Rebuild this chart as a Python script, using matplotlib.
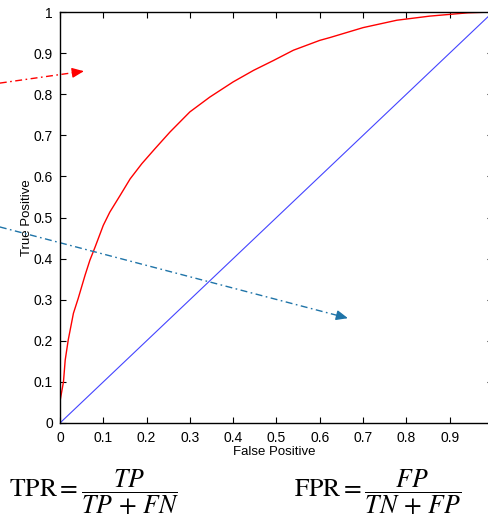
import matplotlib
matplotlib.use("Agg")
import matplotlib.pyplot as plt

# ROC curve of the classifier and the chance diagonal
fpr = [0, 0, 0.008, 0.012, 0.019, 0.031, 0.042, 0.058, 0.069, 0.081, 0.100,
       0.115, 0.139, 0.162, 0.189, 0.219, 0.254, 0.300, 0.346, 0.400, 0.447,
       0.493, 0.539, 0.600, 0.624, 0.700, 0.778, 0.854, 0.942, 1.0]
tpr = [0, 0.053, 0.100, 0.153, 0.202, 0.267, 0.303, 0.360, 0.396, 0.428, 0.481,
       0.513, 0.554, 0.594, 0.631, 0.667, 0.708, 0.757, 0.793, 0.830, 0.858,
       0.882, 0.907, 0.931, 0.938, 0.962, 0.980, 0.990, 0.998, 1.0]
chance_fpr = [0, 1]
chance_tpr = [0, 1]

xticks = [0, 0.1, 0.2, 0.3, 0.4, 0.5, 0.6, 0.7, 0.8, 0.9]
xtick_labels = ['0', '0.1', '0.2', '0.3', '0.4', '0.5', '0.6', '0.7', '0.8', '0.9']
yticks = [0, 0.1, 0.2, 0.3, 0.4, 0.5, 0.6, 0.7, 0.8, 0.9, 1]
ytick_labels = ['0', '0.1', '0.2', '0.3', '0.4', '0.5', '0.6', '0.7', '0.8', '0.9', '1']

# pointer arrows (start, tip) in data coordinates
red_arrow = [(-0.139, 0.827), (0.055, 0.856)]
blue_arrow = [(-0.139, 0.477), (0.665, 0.255)]

plt.rcParams['font.family'] = ['Liberation Sans', 'DejaVu Sans']
plt.rcParams['mathtext.fontset'] = 'stix'

fig = plt.figure(figsize=(4.89, 5.23), dpi=100, facecolor='white')
ax = fig.add_axes([60 / 489, 1 - 423 / 523, 433 / 489, 411 / 523])

ax.plot(chance_fpr, chance_tpr, color='#4444ff', lw=0.8)
ax.plot(fpr, tpr, color='red', lw=1.0)

ax.set_xlim(0, 1)
ax.set_ylim(0, 1)
ax.set_xticks(xticks + [1])
ax.set_xticklabels(xtick_labels + [''])
ax.set_yticks(yticks)
ax.set_yticklabels(ytick_labels)
ax.tick_params(direction='in', length=4, width=0.8, labelsize=10,
               top=True, right=True, colors='black')
ax.tick_params(axis='x', pad=6)
ax.tick_params(axis='y', pad=5)
for sp in ax.spines.values():
    sp.set_linewidth(1.0)

ax.set_xlabel('False Positive', fontsize=9.5)
ax.set_ylabel('True Positive', fontsize=9.5)
ax.xaxis.set_label_coords(0.494, -0.056)
ax.yaxis.set_label_coords(-0.062, 0.5)

dashdot = (0, (5, 2.5, 1.2, 2.5))
for (start, tip), col in [(red_arrow, 'red'), (blue_arrow, '#1f74a8')]:
    # dashed shaft, then a solid filled head at the tip
    back = (tip[0] - (tip[0] - start[0]) * 0.03, tip[1] - (tip[1] - start[1]) * 0.03)
    ax.plot([start[0], back[0]], [start[1], back[1]], color=col, lw=1.0,
            linestyle=dashdot, clip_on=False)
    ax.annotate('', xy=tip, xytext=back, annotation_clip=False,
                arrowprops=dict(arrowstyle='-|>,head_length=0.7,head_width=0.3',
                                color=col, lw=1.0, shrinkA=0, shrinkB=0))

fig.text(9 / 489, 1 - 492 / 523, r'$\mathrm{TPR} = \dfrac{TP}{TP\,+\,FN}$',
         fontsize=18.5, ha='left', va='center')
fig.text(294 / 489, 1 - 492 / 523, r'$\mathrm{FPR} = \dfrac{FP}{TN\,+\,FP}$',
         fontsize=18.5, ha='left', va='center')

fig.savefig('out.png', dpi=100)
